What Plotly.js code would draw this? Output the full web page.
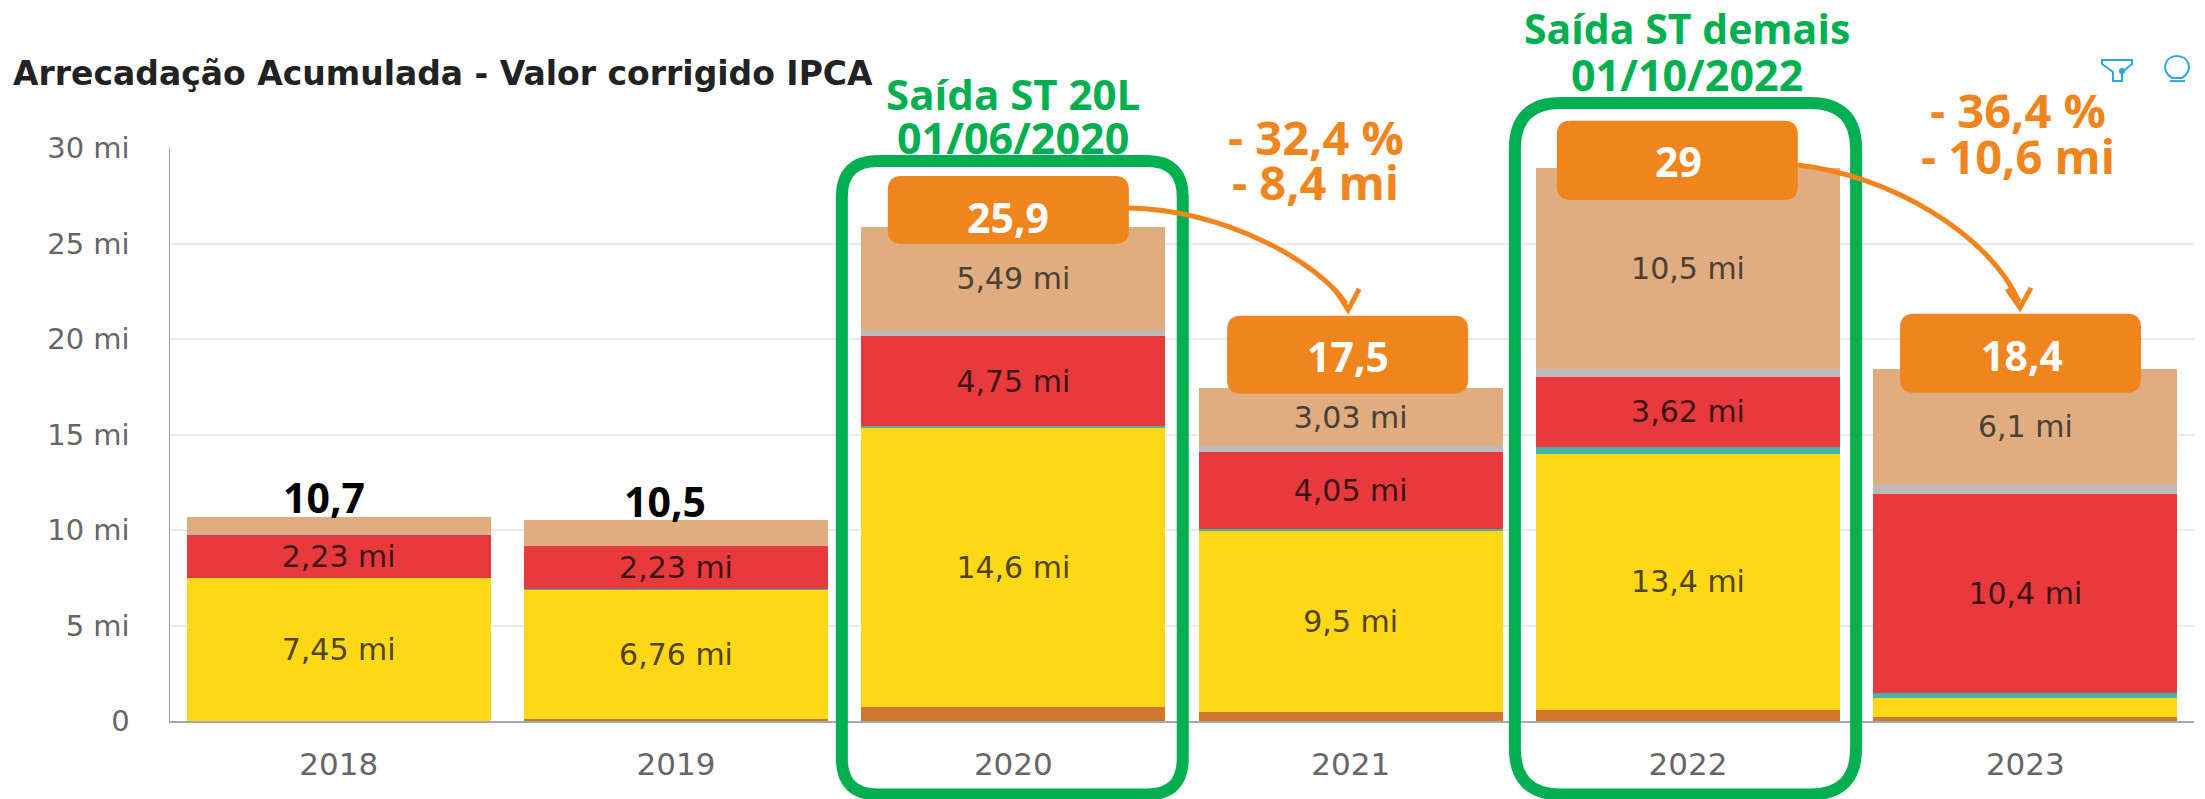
<!DOCTYPE html>
<html><head><meta charset="utf-8">
<script src="https://cdn.plot.ly/plotly-3.0.1.min.js"></script>
<style>html,body{margin:0;padding:0;background:#fff}#c{width:2205px;height:799px}</style>
</head><body><div id="c"></div>
<script>
const years=['2018','2019','2020','2021','2022','2023'];
const brown=[0.02,0.1,0.72,0.46,0.6,0.23];
const yellow=[7.45,6.76,14.6,9.5,13.4,1.0];
const teal=[0.03,0.06,0.1,0.1,0.37,0.25];
const red=[2.23,2.23,4.75,4.05,3.62,10.4];
const gray=[0.05,0.03,0.23,0.29,0.45,0.47];
const tan=[0.92,1.32,5.49,3.03,10.5,6.1];
const yellowLabels=['7,45 mi','6,76 mi','14,6 mi','9,5 mi','13,4 mi',''];
const redLabels=['2,23 mi','2,23 mi','4,75 mi','4,05 mi','3,62 mi','10,4 mi'];
const tanLabels=['','','5,49 mi','3,03 mi','10,5 mi','6,1 mi'];
const yTicks=[0,5,10,15,20,25,30];
const yTickText=['0','5 mi','10 mi','15 mi','20 mi','25 mi','30 mi'];

const L=169.5,R=2194,T=148,B=721.5;
const X=p=>(p-L)/(R-L), Y=p=>(B-p)/(B-T);
const P=(x,y)=>X(x).toFixed(5)+','+Y(y).toFixed(5);
const GREEN='#00B050',ORANGE='#F0851E',BLUE='#2FA6E2';

function rr(x0,y0,x1,y1,r){
  return 'M'+P(x0+r,y0)+' L'+P(x1-r,y0)+' Q'+P(x1,y0)+' '+P(x1,y0+r)+' L'+P(x1,y1-r)+' Q'+P(x1,y1)+' '+P(x1-r,y1)+
   ' L'+P(x0+r,y1)+' Q'+P(x0,y1)+' '+P(x0,y1-r)+' L'+P(x0,y0+r)+' Q'+P(x0,y0)+' '+P(x0+r,y0)+' Z';
}
const sp=(path,o)=>Object.assign({type:'path',xref:'paper',yref:'paper',layer:'above',path:path,line:{width:0}},o||{});
const white=(a,b,c,d)=>sp(rr(a,b,c,d,0.01),{fillcolor:'#fff'});
const box=(a,b,c,d)=>sp(rr(a,b,c,d,14),{fillcolor:ORANGE});
const green=(a,b,c,d,r)=>sp(rr(a,b,c,d,r),{line:{color:GREEN,width:12}});
const curve=(a,b,c,d,e,f,g,h)=>sp('M'+P(a,b)+' C'+P(c,d)+' '+P(e,f)+' '+P(g,h),{line:{color:ORANGE,width:5}});
const head=(a,b,c,d,e,f)=>sp('M'+P(a,b)+' L'+P(c,d)+' L'+P(e,f),{line:{color:ORANGE,width:5}});

const shapes=[
 white(1153,105,1478.6,205),white(1862,85,2180,180),
 green(841.5,161,1182.5,795,36),green(1514.7,103,1856,795,46),
 box(887.5,176,1128.6,244),box(1226.9,316,1467.9,394),box(1556.7,120.7,1797.7,200),box(1900,314,2141,393),
 curve(1128,208,1225,210,1318,262,1346,304),head(1335,290,1348,310,1359,289),
 curve(1797,165,1890,175,1990,235,2019,302),head(2007,289,2020,308,2031,288),
 sp('M'+P(2102,60)+' L'+P(2132,60)+' L'+P(2132,64)+' L'+P(2122,72)+' L'+P(2122,81)+' L'+P(2113,81)+' L'+P(2113,72)+' L'+P(2102,64)+' Z',{line:{color:BLUE,width:2}}),
 sp(rr(2119,68,2125,74,2.9),{fillcolor:BLUE}),
 sp('M'+P(2172,78)+' C'+P(2160,70)+' '+P(2165,56)+' '+P(2177,56)+' C'+P(2189,56)+' '+P(2194,70)+' '+P(2182,78)+' Z',{line:{color:BLUE,width:2}}),
 sp('M'+P(2170,81)+' L'+P(2185,81),{line:{color:BLUE,width:2}})
];

const OS='"Open Sans", sans-serif';
function note(t,x,y,size,color){
  return {text:t,xref:'paper',yref:'paper',x:X(x),y:Y(y),xanchor:'center',yanchor:'middle',showarrow:false,
    font:{family:OS,size:size,color:color,weight:700}};
}
const annotations=[
 note('10,7',324,497,41,'#000'),note('10,5',665,501,41,'#000'),
 note('25,9',1007.6,217,41,'#fff'),note('17,5',1348,356,41,'#fff'),note('29',1678,161,41,'#fff'),note('18,4',2022,355,41,'#fff'),
 note('Saída ST 20L',1013,93,42,GREEN),note('01/06/2020',1013,137,43,GREEN),
 note('Saída ST demais',1687,28,41,GREEN),note('01/10/2022',1687,74,43,GREEN),
 note('- 32,4 %',1315.5,137,47,ORANGE),note('- 8,4 mi',1315,182,47,ORANGE),
 note('- 36,4 %',2018,110,47,ORANGE),note('- 10,6 mi',2018,156,47,ORANGE)
];

const DV='"DejaVu Sans", sans-serif';
function tr(name,vals,color,labels,tc){
  const t={type:'bar',name:name,x:years,y:vals,marker:{color:color,line:{width:0}},hoverinfo:'skip'};
  if(labels){
    t.text=labels;t.textposition='inside';t.insidetextanchor='middle';t.textangle=0;t.constraintext='none';
    t.insidetextfont={family:DV,size:30,color:tc};
  } else {t.textposition='none';}
  return t;
}
const data=[
 tr('Marrom',brown,'#D0762E'),
 tr('Amarelo',yellow,'#FFD817',yellowLabels,'#50450f'),
 tr('Verde',teal,'#45B5AA'),
 tr('Vermelho',red,'#E83A3C',redLabels,'#3d1416'),
 tr('Cinza',gray,'#BDB8BC'),
 tr('Bege',tan,'#DFAD7F',tanLabels,'#4b4036')
];
const layout={
 width:2205,height:799,autosize:false,barmode:'stack',bargap:0.099,showlegend:false,
 paper_bgcolor:'#fff',plot_bgcolor:'#fff',
 margin:{l:L,r:2205-R,t:T,b:799-B,pad:0},
 title:{text:'Arrecadação Acumulada - Valor corrigido IPCA',xref:'container',yref:'container',x:13/2205,xanchor:'left',y:1-73/799,yanchor:'middle',
   font:{family:DV,size:33,color:'#222',weight:700}},
 xaxis:{type:'category',categoryorder:'array',categoryarray:years,showgrid:false,zeroline:false,showline:true,linecolor:'#a8a8a8',linewidth:2,
   ticks:'',ticklabelstandoff:15,tickfont:{family:DV,size:31,color:'#666'}},
 yaxis:{range:[0,30],tickmode:'array',tickvals:yTicks,ticktext:yTickText,showgrid:true,gridcolor:'#ebebeb',gridwidth:2,zeroline:false,
   showline:true,linecolor:'#999',linewidth:1.5,ticks:'',ticklabelstandoff:33,tickfont:{family:DV,size:29,color:'#666'}},
 shapes:shapes,annotations:annotations
};
Plotly.newPlot('c',data,layout,{displayModeBar:false,staticPlot:true});
</script>
</body></html>
